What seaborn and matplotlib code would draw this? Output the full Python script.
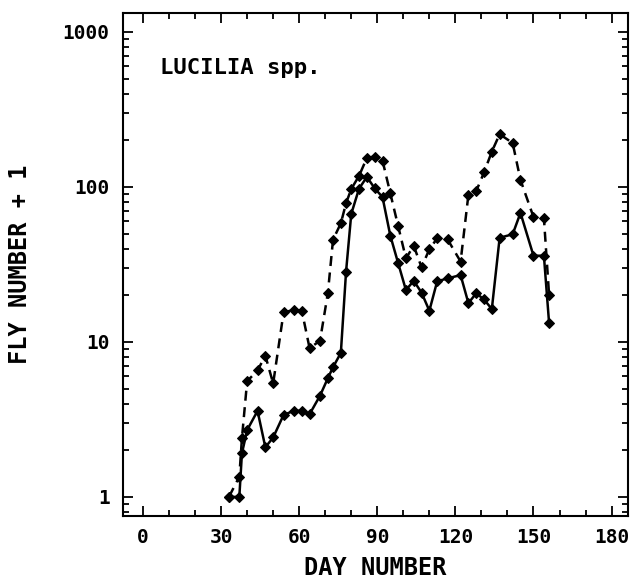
import numpy as np
import pandas as pd
import matplotlib
matplotlib.use("Agg")
import matplotlib.pyplot as plt
from matplotlib.ticker import LogLocator, FixedLocator, NullFormatter, MultipleLocator
import seaborn as sns

# ---- data ----
days = [33, 37, 38, 40, 44, 47, 50, 54, 58, 61, 64, 68, 71, 73, 76, 78, 80, 83,
        86, 89, 92, 95, 98, 101, 104, 107, 110, 113, 117, 122, 125, 128, 131, 134,
        137, 142, 145, 150, 154, 156]
solid_vals = [1, 1, 1.91, 2.7, 3.59, 2.09, 2.42, 3.38, 3.6, 3.59, 3.42, 4.5, 5.83,
              6.87, 8.5, 28.4, 67, 97.6, 116, 98, 86, 48.5, 32.3, 21.6, 24.8, 20.8,
              15.9, 24.6, 25.7, 27, 17.8, 20.6, 18.8, 16.3, 47, 49.5, 68, 36, 36, 13.2]
dashed_vals = [1, 1.35, 2.39, 5.58, 6.55, 8.15, 5.4, 15.5, 16.1, 15.9, 9.1, 10.2,
               20.6, 45.7, 58.3, 78.5, 97, 118, 154, 157, 148, 91, 56, 34.6, 41.7,
               30.3, 39.6, 46.6, 45.9, 33, 89, 94, 124, 169, 219, 192, 111, 64, 63, 20]
x_ticks = [0, 30, 60, 90, 120, 150, 180]
y_ticks = [1, 10, 100, 1000]
y_tick_labels = ["1", "10", "100", "1000"]
title_text = "LUCILIA spp."
x_label = "DAY NUMBER"
y_label = "FLY NUMBER + 1"

df = pd.DataFrame({
    "day": days * 2,
    "value": solid_vals + dashed_vals,
    "series": ["solid"] * len(days) + ["dashed"] * len(days),
})

sns.set_style("ticks")
plt.rcParams["font.family"] = ["DejaVu Sans Mono", "DejaVu Sans"]
plt.rcParams["font.weight"] = "bold"
plt.rcParams["text.color"] = "black"
plt.rcParams["axes.labelcolor"] = "black"

fig = plt.figure(figsize=(6.3, 5.81), dpi=100)
ax = fig.add_axes([0.196, 0.112, 0.8008, 0.8657])

sns.lineplot(data=df, x="day", y="value", style="series",
             dashes={"solid": "", "dashed": (4, 2.6)},
             markers={"solid": "D", "dashed": "D"},
             color="black", linewidth=1.8, markersize=5.5,
             markeredgecolor="black", legend=False, ax=ax, sort=False,
             estimator=None)

ax.set_yscale("log")
ax.set_xlim(-7.5, 186.3)
ax.set_ylim(0.754, 1326)

ax.xaxis.set_major_locator(FixedLocator(x_ticks))
ax.xaxis.set_minor_locator(MultipleLocator(10))
ax.set_xticklabels([str(t) for t in x_ticks])
ax.yaxis.set_major_locator(FixedLocator(y_ticks))
ax.set_yticklabels(y_tick_labels)
ax.yaxis.set_minor_locator(LogLocator(base=10, subs=np.arange(2, 10)))
ax.yaxis.set_minor_formatter(NullFormatter())

for s in ax.spines.values():
    s.set_linewidth(1.5)
    s.set_color("black")
    s.set_visible(True)

ax.tick_params(which="major", direction="in", length=7.5, width=1.3,
               top=True, right=True, labelsize=14, colors="black")
ax.tick_params(which="minor", direction="in", length=4, width=1.3,
               top=True, right=True, colors="black")
ax.tick_params(axis="y", which="major", pad=10)
ax.tick_params(axis="x", which="major", pad=9)
for lab in ax.get_xticklabels() + ax.get_yticklabels():
    lab.set_fontweight("bold")

ax.set_xlabel(x_label, fontsize=17, fontweight="bold", labelpad=6, color="black")
ax.set_ylabel(y_label, fontsize=17, fontweight="bold", labelpad=22, color="black")
ax.text(0.072, 0.89, title_text, transform=ax.transAxes, fontsize=16,
        fontweight="bold", ha="left", va="center", color="black")

fig.savefig("out.png", dpi=100)
